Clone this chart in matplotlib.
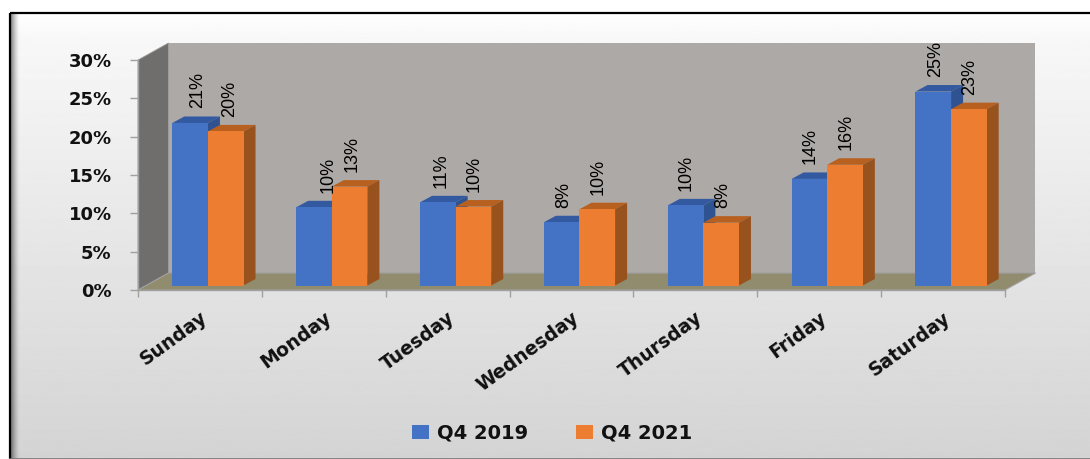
import numpy as np
import matplotlib
matplotlib.use("Agg")
import matplotlib.pyplot as plt
from matplotlib.patches import Polygon, Rectangle

days = ["Sunday", "Monday", "Tuesday", "Wednesday", "Thursday", "Friday", "Saturday"]
q4_2019 = [21.2, 10.2, 10.85, 8.25, 10.45, 13.9, 25.3]
q4_2021 = [20.1, 12.9, 10.3, 9.95, 8.2, 15.75, 23.0]
y_ticks = [0, 5, 10, 15, 20, 25, 30]

# hand-placed label nudges (px) seen in the reference, per day
nudge_2019 = [6, 13, 2, 1, 0, 0, 1]
nudge_2021 = [3, 2, 0, 0, 1, 0, 0]

W, H = 1090, 459
BLUE, BLUE_TOP, BLUE_SIDE = "#4472C4", "#335AA0", "#2F5290"
ORANGE, ORANGE_TOP, ORANGE_SIDE = "#ED7D31", "#B8601F", "#98521E"

fig = plt.figure(figsize=(W / 100, H / 100), dpi=100, facecolor="white")

# Chart-area background with vertical gradient and bevel
bg = fig.add_axes([0, 0, 1, 1], zorder=0)
bg.axis("off")
grad = np.interp(np.linspace(0, 1, 256), [0, 0.06, 1], [1.0, 0.97, 0.83])[:, None]
bg.imshow(grad, extent=[10, W, H, 13], cmap="gray", vmin=0, vmax=1, aspect="auto", zorder=1)
shade = np.zeros((1, 32, 4))
shade[0, :, 3] = np.linspace(0.6, 0, 32) ** 1.5
bg.imshow(shade, extent=[11, 20, H, 14], aspect="auto", zorder=2)
bg.set_xlim(0, W); bg.set_ylim(H, 0)
bg.plot([10, 10], [H, 13], color="black", lw=1.6, zorder=3, solid_capstyle="butt")
bg.plot([10, W], [13, 13], color="black", lw=1.6, zorder=3, solid_capstyle="butt")
bg.plot([10, W], [H - 0.5, H - 0.5], color="#777777", lw=1.2, zorder=3)

# Front plane of the 3-D box: 0%..30% and the seven category slots
ax = fig.add_axes([138 / W, 1 - 290 / H, (1005 - 138) / W, (290 - 60) / H], zorder=1)
ax.patch.set_alpha(0)
ax.set_xlim(-0.5, 6.5)
ax.set_ylim(0, 30)
px_x = 7 / (1005 - 138)
px_y = 30 / (290 - 60)

# depth of the box and of each bar, in data units
box_dx, box_dy = 30.5 * px_x, 17 * px_y
bar_dx, bar_dy = 12 * px_x, 6.5 * px_y
base = 4.5 * px_y
bar_w = 35.6 * px_x
left0 = -27.6 * px_x

x0, x1 = -0.5, 6.5
top = 30
ax.add_patch(Polygon([(x0 + box_dx, box_dy), (x1 + box_dx, box_dy), (x1 + box_dx, top + box_dy),
                      (x0 + box_dx, top + box_dy)], fc="#ADA9A7", ec="none", clip_on=False, zorder=1))
ax.add_patch(Polygon([(x0, 0), (x0 + box_dx, box_dy), (x0 + box_dx, top + box_dy), (x0, top)],
                     fc="#706E6D", ec="#999999", lw=0.6, clip_on=False, zorder=1))
ax.add_patch(Polygon([(x0, 0), (x1, 0), (x1 + box_dx, box_dy), (x0 + box_dx, box_dy)],
                     fc="#918C6E", ec="#A0A0A0", lw=0.8, clip_on=False, zorder=2))


def bar3d(left, value, front, toptone, side, z):
    y = base + value
    ax.bar(left, value, bar_w, bottom=base, align="edge", color=front, zorder=z + 0.2)
    r = left + bar_w
    ax.add_patch(Polygon([(left, y), (r, y), (r + bar_dx, y + bar_dy), (left + bar_dx, y + bar_dy)],
                         fc=toptone, ec="none", clip_on=False, zorder=z + 0.1))
    ax.add_patch(Polygon([(r, base), (r + bar_dx, base + bar_dy), (r + bar_dx, y + bar_dy), (r, y)],
                         fc=side, ec="none", clip_on=False, zorder=z + 0.1))


for i, (a, b) in enumerate(zip(q4_2019, q4_2021)):
    la = i + left0
    lb = la + bar_w
    bar3d(la, a, BLUE, BLUE_TOP, BLUE_SIDE, 3)
    bar3d(lb, b, ORANGE, ORANGE_TOP, ORANGE_SIDE, 4)
    for left, v, n in ((la, a, nudge_2019[i]), (lb, b, nudge_2021[i])):
        ax.annotate(f"{v:.0f}%", (left + bar_w / 2, base + v), xytext=((n + 1) * 0.72, 10.5),
                    textcoords="offset points", rotation=90, ha="center", va="bottom",
                    fontsize=13, family=["Liberation Sans"], color="black", zorder=8,
                    annotation_clip=False)

ax.set_yticks(y_ticks)
ax.set_yticklabels([f"{t}%" for t in y_ticks], fontsize=13, fontweight="bold", color="#111111")
ax.set_xticks(np.arange(-0.5, 7, 1))
ax.set_xticklabels([])
ax.set_xticks(range(7), minor=True)
ax.set_xticklabels(days, minor=True, rotation=36, ha="right", rotation_mode="anchor",
                   fontsize=13.5, fontweight="bold", color="#111111")
ax.tick_params(axis="y", length=6, width=1, color="#A0A0A0", pad=13)
ax.tick_params(axis="x", which="major", length=5, width=1, color="#A0A0A0")
ax.tick_params(axis="x", which="minor", length=0, pad=13)
for s in ("top", "right"):
    ax.spines[s].set_visible(False)
for s in ("left", "bottom"):
    ax.spines[s].set_color("#A0A0A0")
    ax.spines[s].set_linewidth(1.0)

handles = [Rectangle((0, 0), 1, 1, fc=BLUE), Rectangle((0, 0), 1, 1, fc=ORANGE)]
ax.legend(handles, ["Q4 2019", "Q4 2021"], ncol=2, frameon=False, loc="center",
          bbox_to_anchor=(552 / W, 1 - 433 / H), bbox_transform=fig.transFigure,
          prop={"size": 14, "weight": "bold"}, handlelength=0.85, handleheight=0.7, handletextpad=0.4,
          columnspacing=2.5, labelcolor="#111111")

fig.savefig("out.png", dpi=100, facecolor="white")
